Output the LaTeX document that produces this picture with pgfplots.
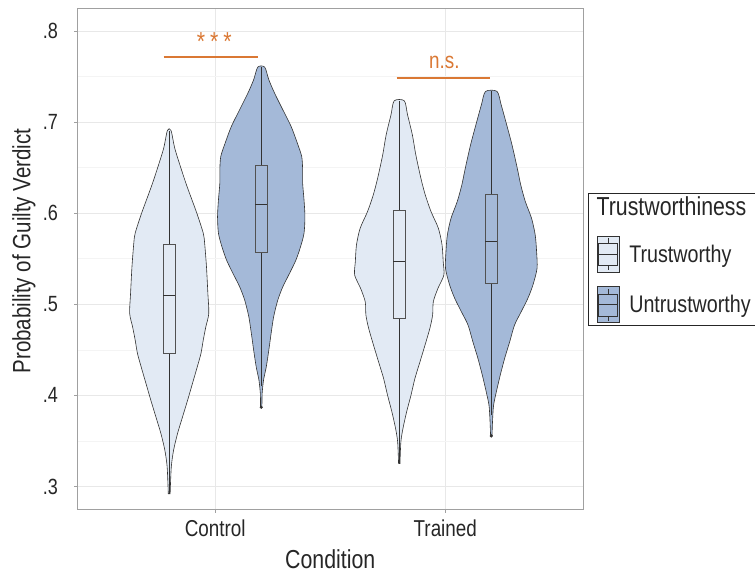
\documentclass[border=0pt]{standalone}
\usepackage{fontspec}
\IfFontExistsTF{Liberation Sans Narrow}{\setmainfont{Liberation Sans Narrow}}{\setmainfont[FakeStretch=0.82]{Liberation Sans}}
\usepackage{pgfplots}
\usepackage{pgfplotstable}
\pgfplotsset{compat=1.18}

\definecolor{lightfill}{RGB}{226,234,244}
\definecolor{darkfill}{RGB}{164,185,216}
\definecolor{outl}{RGB}{50,50,50}
\definecolor{sig}{RGB}{218,120,52}
\definecolor{gridmaj}{RGB}{232,232,232}
\definecolor{gridmin}{RGB}{244,244,244}
\definecolor{frame}{RGB}{160,160,160}

% violin outlines: value v, signed half width w (x units); up the right side, down the left side
\pgfplotstableread{
v w
0.292 0.004
0.3214 0.009
0.3398 0.019
0.358 0.036
0.3764 0.058
0.3947 0.080
0.413 0.101
0.4313 0.122
0.446 0.138
0.4607 0.148
0.475 0.159
0.490 0.172
0.512 0.168
0.541 0.162
0.567 0.154
0.578 0.148
0.600 0.120
0.6329 0.0725
0.6695 0.026
0.6907 0.008
0.6907 -0.008
0.6695 -0.026
0.6329 -0.0725
0.600 -0.120
0.578 -0.148
0.567 -0.154
0.541 -0.162
0.512 -0.168
0.490 -0.172
0.475 -0.159
0.4607 -0.148
0.446 -0.138
0.4313 -0.122
0.413 -0.101
0.3947 -0.080
0.3764 -0.058
0.358 -0.036
0.3398 -0.019
0.3214 -0.009
0.292 -0.004
}\vct
\pgfplotstableread{
v w
0.3874 0.003
0.4021 0.004
0.4167 0.010
0.4314 0.022
0.4497 0.033
0.4680 0.043
0.4863 0.054
0.5046 0.072
0.5193 0.094
0.5339 0.123
0.5486 0.151
0.5632 0.171
0.5779 0.186
0.5962 0.190
0.6145 0.186
0.6328 0.180
0.6475 0.180
0.6621 0.176
0.6768 0.157
0.6951 0.130
0.7134 0.094
0.7317 0.058
0.7464 0.033
0.7603 0.015
0.7603 -0.015
0.7464 -0.033
0.7317 -0.058
0.7134 -0.094
0.6951 -0.130
0.6768 -0.157
0.6621 -0.176
0.6475 -0.180
0.6328 -0.180
0.6145 -0.186
0.5962 -0.190
0.5779 -0.186
0.5632 -0.171
0.5486 -0.151
0.5339 -0.123
0.5193 -0.094
0.5046 -0.072
0.4863 -0.054
0.4680 -0.043
0.4497 -0.033
0.4314 -0.022
0.4167 -0.010
0.4021 -0.004
0.3874 -0.003
}\vcu
\pgfplotstableread{
v w
0.325 0.003
0.3489 0.007
0.3636 0.016
0.3819 0.032
0.4002 0.051
0.4185 0.068
0.4368 0.090
0.4552 0.112
0.4735 0.133
0.4881 0.145
0.5028 0.148
0.5174 0.168
0.5321 0.194
0.5467 0.191
0.5651 0.186
0.5834 0.170
0.6017 0.138
0.6200 0.113
0.6383 0.094
0.6640 0.072
0.6859 0.057
0.7079 0.036
0.7233 0.022
0.7233 -0.022
0.7079 -0.036
0.6859 -0.057
0.6640 -0.072
0.6383 -0.094
0.6200 -0.113
0.6017 -0.138
0.5834 -0.170
0.5651 -0.186
0.5467 -0.191
0.5321 -0.194
0.5174 -0.168
0.5028 -0.148
0.4881 -0.145
0.4735 -0.133
0.4552 -0.112
0.4368 -0.090
0.4185 -0.068
0.4002 -0.051
0.3819 -0.032
0.3636 -0.016
0.3489 -0.007
0.325 -0.003
}\vtt
\pgfplotstableread{
v w
0.3555 0.003
0.3746 0.006
0.3892 0.010
0.4039 0.022
0.4222 0.039
0.4405 0.058
0.4588 0.080
0.4771 0.101
0.4918 0.130
0.5065 0.159
0.5211 0.181
0.5394 0.199
0.5577 0.197
0.5760 0.191
0.5944 0.175
0.6127 0.148
0.6310 0.128
0.6493 0.113
0.6750 0.090
0.6969 0.067
0.7189 0.043
0.7336 0.025
0.7336 -0.025
0.7189 -0.043
0.6969 -0.067
0.6750 -0.090
0.6493 -0.113
0.6310 -0.128
0.6127 -0.148
0.5944 -0.175
0.5760 -0.191
0.5577 -0.197
0.5394 -0.199
0.5211 -0.181
0.5065 -0.159
0.4918 -0.130
0.4771 -0.101
0.4588 -0.080
0.4405 -0.058
0.4222 -0.039
0.4039 -0.022
0.3892 -0.010
0.3746 -0.006
0.3555 -0.003
}\vtu

\newcommand{\violin}[3]{% table, center, fill
  \addplot[forget plot, fill=#3, draw=outl, line width=0.6pt, smooth, tension=0.45]
    table[x expr={#2+\thisrow{w}}, y=v] {#1} -- cycle;
}
% box: left, center, right, lower whisker, lower quartile, median, upper quartile, upper whisker, fill
\newcommand{\boxp}[9]{%
  \addplot[forget plot, outl, line width=0.6pt] coordinates {(#2,#4) (#2,#5)};
  \addplot[forget plot, outl, line width=0.6pt] coordinates {(#2,#7) (#2,#8)};
  \addplot[forget plot, draw=outl!85, fill=#9, line width=0.6pt] coordinates {(#1,#5) (#3,#5) (#3,#7) (#1,#7)} -- cycle;
  \addplot[forget plot, outl, line width=1.5pt] coordinates {(#1,#6) (#3,#6)};
}
\newcommand{\legkey}[1]{%
  \draw[draw=outl, fill=#1, line width=0.6pt] (0pt,-18pt) rectangle (22pt,18pt);
  \draw[outl, line width=0.5pt] (1.5pt,-11pt) rectangle (20.5pt,11pt);
  \draw[outl, line width=1pt] (1.5pt,0pt) -- (20.5pt,0pt);
  \draw[outl, line width=0.5pt] (11pt,11pt) -- (11pt,16pt) (11pt,-11pt) -- (11pt,-16pt);
  \path (30pt,0pt);
}

\begin{document}
\begin{tikzpicture}
\begin{axis}[
  at={(77.2pt,63.3pt)}, anchor=south west,
  scale only axis, width=506.1pt, height=501.1pt,
  xmin=0.4, xmax=2.6, ymin=0.2745, ymax=0.8245,
  xtick={1,2}, xticklabels={Control,Trained},
  ytick={0.3,0.4,0.5,0.6,0.7,0.8}, yticklabels={.3,.4,.5,.6,.7,.8},
  minor ytick={0.35,0.45,0.55,0.65,0.75},
  xmajorgrids, ymajorgrids, yminorgrids,
  major grid style={gridmaj, line width=0.5pt},
  minor grid style={gridmin, line width=0.4pt},
  axis line style={frame, line width=0.7pt},
  tick align=outside, major tick length=3pt, minor tick length=0pt,
  tick style={frame, line width=0.6pt},
  xtick pos=bottom, ytick pos=left,
  xticklabel style={font=\fontsize{23}{27}\selectfont, text=black!85, inner sep=0pt, yshift=-7pt},
  yticklabel style={font=\fontsize{22}{26}\selectfont, text=black!85, inner sep=0pt, xshift=-16pt},
  xlabel={Condition}, ylabel={Probability of Guilty Verdict},
  xlabel style={font=\fontsize{26}{30}\selectfont, text=black!85, inner sep=0pt, at={(axis description cs:0.5,-0.098)}, anchor=center},
  ylabel style={font=\fontsize{25}{30}\selectfont, text=black!85, inner sep=0pt, at={(axis description cs:-0.1051,0.5163)}, anchor=center},
  legend style={at={(axis description cs:1.0099,0.6326)}, anchor=north west,
    draw=black!85, line width=0.7pt, fill=white, inner xsep=8pt, inner ysep=2pt,
    font=\fontsize{24}{28}\selectfont, row sep=14pt, text=black!85},
  legend cell align=left,
]
\violin{\vct}{0.8}{lightfill}
\violin{\vcu}{1.2}{darkfill}
\violin{\vtt}{1.8}{lightfill}
\violin{\vtu}{2.2}{darkfill}

\boxp{0.774}{0.8}{0.826}{0.292}{0.446}{0.5094}{0.566}{0.6907}{lightfill}
\boxp{1.174}{1.2}{1.226}{0.41}{0.557}{0.6097}{0.653}{0.7603}{darkfill}
\boxp{1.774}{1.8}{1.826}{0.325}{0.485}{0.5467}{0.6028}{0.7233}{lightfill}
\boxp{2.174}{2.2}{2.226}{0.378}{0.5226}{0.5687}{0.6207}{0.7336}{darkfill}

% outliers
\addplot[forget plot, only marks, mark=*, mark size=1.4pt, draw=outl, fill=outl]
  coordinates {(1.2,0.387) (2.2,0.3555)};

% significance annotations
\addplot[forget plot, sig, line width=2.4pt] coordinates {(0.776,0.7717) (1.188,0.7717)};
\addplot[forget plot, sig, line width=2.4pt] coordinates {(1.789,0.7486) (2.193,0.7486)};
\node[anchor=base, text=sig, font=\fontsize{26}{30}\selectfont, inner sep=0pt] at (axis cs:0.996,0.779) {*\kern5pt*\kern5pt*};
\node[anchor=base, text=sig, font=\fontsize{23}{27}\selectfont, inner sep=0pt] at (axis cs:1.996,0.7585) {n.s.};

% legend
\addlegendimage{empty legend}
\addlegendentry[text depth=4pt]{\hspace*{-32.7pt}\fontsize{26}{30}\selectfont Trustworthiness}
\addlegendimage{legend image code/.code={\legkey{lightfill}}}
\addlegendentry{Trustworthy}
\addlegendimage{legend image code/.code={\legkey{darkfill}}}
\addlegendentry{Untrustworthy}
\end{axis}
\pgfresetboundingbox
\useasboundingbox (0,0) rectangle (755pt,573pt);
\end{tikzpicture}
\end{document}
